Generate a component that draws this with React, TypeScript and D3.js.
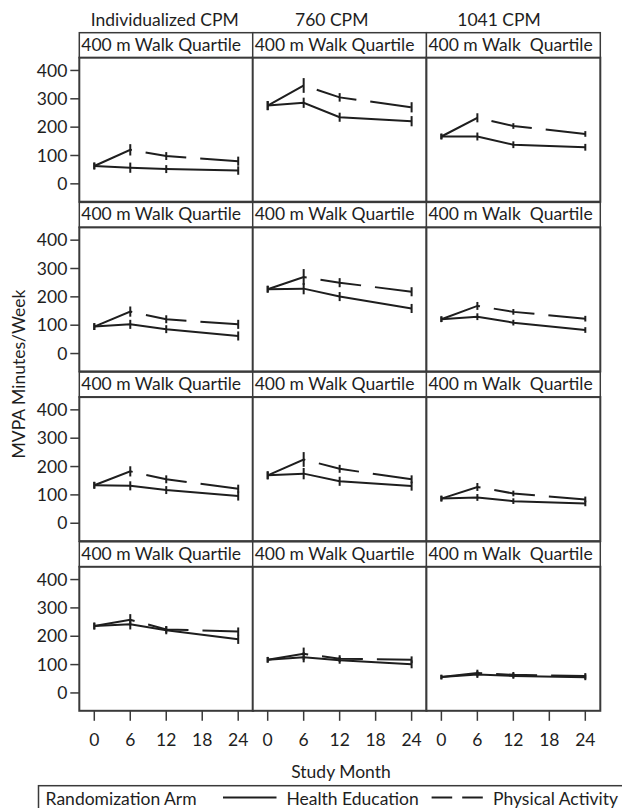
import React from "react";
import * as d3 from "d3";

const columns = ["Individualized CPM", "760 CPM", "1041 CPM"];
const stripLabels = ["400 m Walk Quartile", "400 m Walk Quartile", "400 m Walk\u00a0\u00a0Quartile"];
const months = [0, 6, 12, 24];
const xTicks = [0, 6, 12, 18, 24];
const yTicks = [0, 100, 200, 300, 400];

// [row][col][month]
const healthEducation = [
  [[63, 57, 52, 47], [276, 286, 235, 221], [167, 167, 138, 129]],
  [[95, 103, 86, 62], [227, 229, 201, 159], [121, 130, 109, 83]],
  [[134, 132, 117, 96], [169, 175, 148, 131], [87, 91, 78, 70]],
  [[236, 242, 221, 189], [117, 126, 115, 101], [56, 65, 60, 55]],
];
const physicalActivity = [
  [[63, 120, 98, 80], [276, 347, 305, 270], [167, 233, 204, 176]],
  [[95, 148, 121, 103], [227, 270, 250, 218], [121, 168, 147, 123]],
  [[134, 183, 155, 122], [169, 225, 192, 155], [87, 128, 105, 84]],
  [[236, 258, 224, 217], [117, 138, 121, 117], [56, 70, 64, 60]],
];
const heError = [
  [[12, 18, 14, 15], [16, 18, 16, 18], [10, 14, 12, 12]],
  [[12, 16, 14, 16], [12, 20, 16, 16], [10, 12, 10, 10]],
  [[12, 16, 14, 16], [14, 20, 16, 16], [10, 12, 10, 10]],
  [[12, 18, 14, 16], [10, 18, 12, 14], [8, 12, 10, 10]],
];
const paError = [
  [[12, 20, 14, 16], [16, 26, 15, 18], [10, 16, 10, 10]],
  [[12, 18, 14, 16], [12, 28, 16, 16], [10, 14, 10, 10]],
  [[12, 18, 14, 14], [14, 26, 14, 14], [10, 14, 10, 10]],
  [[12, 20, 12, 14], [10, 22, 12, 12], [8, 12, 10, 10]],
];

const FONT = "Lato";
const FS = 17.5;
const INK = "#1e1e1e";
const BORDER = "#3a3a3a";

export default function App() {
  const colX = [79.3, 252.7, 426.4];
  const panelW = 173.9;
  const stripTop0 = 32.7;
  const rowStep = 169.7;
  const stripH = 25;
  const plotH = 144;
  const titleX = [164.7, 331.7, 499];

  const line = d3
    .line<[number, number]>()
    .x((d) => d[0])
    .y((d) => d[1]);

  const panels: React.ReactNode[] = [];
  for (let r = 0; r < 4; r++) {
    const sTop = stripTop0 + r * rowStep;
    const pTop = sTop + stripH;
    const y = d3.scaleLinear().domain([-63, 445]).range([pTop + plotH, pTop]);
    for (let c = 0; c < 3; c++) {
      const x = d3.scaleLinear().domain([-2.5, 26.5]).range([colX[c], colX[c] + panelW]);
      const he = healthEducation[r][c];
      const pa = physicalActivity[r][c];
      const heE = heError[r][c];
      const paE = paError[r][c];
      const hePts = months.map((m, i) => [x(m), y(he[i])] as [number, number]);
      const paPts = months.map((m, i) => [x(m), y(pa[i])] as [number, number]);
      panels.push(
        <g key={`p${r}${c}`}>
          <rect x={colX[c]} y={sTop} width={panelW} height={stripH} fill="#fff" stroke={BORDER} strokeWidth={1.5} />
          <text x={colX[c] + 2} y={sTop + 18} fontSize={FS} fontFamily={FONT} fill={INK}>
            {stripLabels[c]}
          </text>
          <rect x={colX[c]} y={pTop} width={panelW} height={plotH} fill="#fff" stroke={BORDER} strokeWidth={2} />
          <path d={line(hePts) || ""} fill="none" stroke={INK} strokeWidth={2} />
          <path d={line(paPts) || ""} fill="none" stroke={INK} strokeWidth={2} strokeDasharray="41,14" />
          {months.map((m, i) => (
            <g key={i}>
              <line x1={x(m)} x2={x(m)} y1={y(he[i] - heE[i])} y2={y(he[i] + heE[i])} stroke={INK} strokeWidth={2} />
              <line x1={x(m)} x2={x(m)} y1={y(pa[i] - paE[i])} y2={y(pa[i] + paE[i])} stroke={INK} strokeWidth={2} />
            </g>
          ))}
          {c === 0 &&
            yTicks.map((t) => (
              <g key={t}>
                <line x1={colX[0] - 9} x2={colX[0]} y1={y(t)} y2={y(t)} stroke={BORDER} strokeWidth={1.5} />
                <text x={colX[0] - 12} y={y(t)} dy="0.35em" textAnchor="end" fontSize={FS} fontFamily={FONT} fill={INK}>
                  {t}
                </text>
              </g>
            ))}
          {r === 3 &&
            xTicks.map((t) => (
              <g key={t}>
                <line x1={x(t)} x2={x(t)} y1={pTop + plotH} y2={pTop + plotH + 10} stroke={BORDER} strokeWidth={1.5} />
                <text x={x(t)} y={746} textAnchor="middle" fontSize={FS} fontFamily={FONT} fill={INK}>
                  {t}
                </text>
              </g>
            ))}
        </g>
      );
    }
  }

  return (
    <svg width={622} height={808} style={{ position: "absolute", left: 0, top: 0, background: "#fff" }}>
      <rect width={622} height={808} fill="#fff" />
      {columns.map((c, i) => (
        <text key={c} x={titleX[i]} y={26} textAnchor="middle" fontSize={FS} fontFamily={FONT} fill={INK}>
          {c}
        </text>
      ))}
      {panels}
      <text
        transform="translate(25,374) rotate(-90)"
        textAnchor="middle"
        fontSize={FS}
        fontFamily={FONT}
        fill={INK}
      >
        MVPA Minutes/Week
      </text>
      <text x={341} y={778} textAnchor="middle" fontSize={FS} fontFamily={FONT} fill={INK}>
        Study Month
      </text>
      <rect x={38.5} y={785.7} width={600} height={40} fill="none" stroke={BORDER} strokeWidth={1.5} />
      <text x={45.6} y={805} fontSize={FS} fontFamily={FONT} fill={INK}>
        Randomization Arm
      </text>
      <line x1={223} x2={276.5} y1={797.5} y2={797.5} stroke={INK} strokeWidth={2} />
      <text x={286.4} y={805} fontSize={FS} fontFamily={FONT} fill={INK}>
        Health Education
      </text>
      <line x1={431.6} x2={482.8} y1={797.5} y2={797.5} stroke={INK} strokeWidth={2} strokeDasharray="20.6,10" />
      <text x={493} y={805} fontSize={FS} fontFamily={FONT} fill={INK}>
        Physical Activity
      </text>
    </svg>
  );
}
